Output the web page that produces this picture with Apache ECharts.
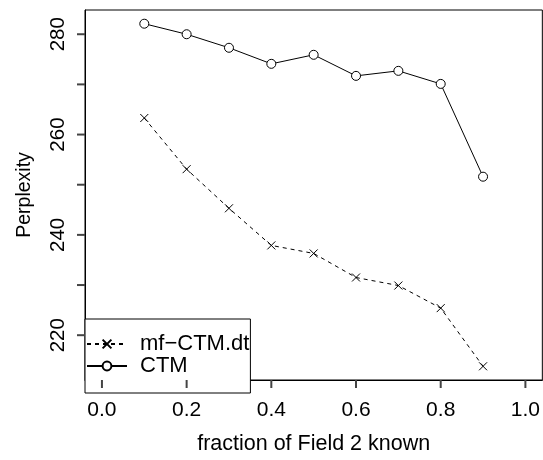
<!DOCTYPE html>
<html>
<head>
<meta charset="utf-8">
<script src="https://cdn.jsdelivr.net/npm/echarts@6/dist/echarts.min.js"></script>
<style>html,body{margin:0;padding:0;background:#fff}#c{width:543px;height:460px}</style>
</head>
<body>
<div id="c"></div>
<script>
const xValues = [0.1, 0.2, 0.3, 0.4, 0.5, 0.6, 0.7, 0.8, 0.9];
const mfCtmDt = [263.3, 253.1, 245.3, 237.9, 236.3, 231.5, 229.9, 225.4, 213.8];
const ctm = [282.1, 280.0, 277.3, 274.1, 275.9, 271.7, 272.7, 270.1, 251.6];
const xTicks = [0, 0.2, 0.4, 0.6, 0.8, 1.0];
const yTicks = [220, 230, 240, 250, 260, 270, 280];
const yLabels = [220, 240, 260, 280];
const seriesNames = ['mf\u2212CTM.dt', 'CTM'];

// R-style 4% axis extension
const allY = mfCtmDt.concat(ctm);
const yMinD = Math.min(...allY), yMaxD = Math.max(...allY);
const yPad = (yMaxD - yMinD) * 0.04;
const xMinD = 0, xMaxD = 1, xPad = (xMaxD - xMinD) * 0.04;
const xLo = xMinD - xPad, xHi = xMaxD + xPad;
const yLo = yMinD - yPad, yHi = yMaxD + yPad;

const font = 'Liberation Sans, Arial, Helvetica, sans-serif';
const TICK = 8;

// outward axis ticks, positioned through the axes' own scales
function tickSeries(data, vertical) {
  return {
    type: 'custom', silent: true, clip: false, z: 10,
    data: data,
    encode: {x: 0, y: 1},
    renderItem: function (params, api) {
      const p = api.coord([api.value(0), api.value(1)]);
      const x = p[0], y = p[1];
      const shape = vertical
        ? {x1: x, y1: y, x2: x, y2: y + TICK}
        : {x1: x - TICK, y1: y, x2: x, y2: y};
      return {type: 'line', z2: 10, shape: shape, style: {stroke: '#444', lineWidth: 2}};
    }
  };
}

const chart = echarts.init(document.getElementById('c'), null, {renderer: 'canvas'});
chart.setOption({
  animation: false,
  backgroundColor: '#fff',
  textStyle: {fontFamily: font},
  grid: {left: 85, top: 10, right: -1, bottom: 70, show: true, borderColor: '#000', borderWidth: 1, containLabel: false},
  xAxis: {
    type: 'value', min: xLo, max: xHi,
    name: 'fraction of Field 2 known', nameLocation: 'middle', nameGap: 53,
    nameTextStyle: {fontSize: 21.5, color: '#000', fontFamily: font},
    axisLine: {show: true, onZero: false, lineStyle: {color: '#000', width: 1}},
    splitLine: {show: false},
    axisTick: {show: false},
    axisLabel: {customValues: xTicks, fontSize: 21, color: '#000', fontFamily: font, margin: 20,
      formatter: v => v.toFixed(1)}
  },
  yAxis: {
    type: 'value', min: yLo, max: yHi,
    name: 'Perplexity', nameLocation: 'middle', nameGap: 50, nameRotate: 90,
    nameTextStyle: {fontSize: 19.5, color: '#000', fontFamily: font},
    axisLine: {show: true, onZero: false, lineStyle: {color: '#000', width: 1}},
    splitLine: {show: false},
    axisTick: {show: false},
    axisLabel: {customValues: yLabels, rotate: 90, fontSize: 20.5, color: '#000', fontFamily: font, margin: 16,
      formatter: v => String(Math.round(v))}
  },
  legend: {
    orient: 'vertical', left: 85, top: 319,
    data: seriesNames,
    borderColor: '#000', borderWidth: 1, borderRadius: 0,
    padding: [14, 1, 16, 1],
    itemWidth: 40, itemHeight: 11, itemGap: 0,
    backgroundColor: '#fff',
    textStyle: {fontSize: 22, color: '#000', fontFamily: font, lineHeight: 20, padding: [0, 0, 0, 8]},
    selectedMode: false
  },
  series: [
    {
      name: seriesNames[0], type: 'line',
      data: xValues.map((x, i) => [x, mfCtmDt[i]]),
      symbol: 'path://M0,0L10,10M10,0L0,10', symbolSize: 8,
      itemStyle: {color: 'transparent', borderColor: '#000', borderWidth: 1},
      lineStyle: {color: '#000', width: 1, type: [4, 4]},
      z: 3
    },
    {
      name: seriesNames[1], type: 'line',
      data: xValues.map((x, i) => [x, ctm[i]]),
      symbol: 'circle', symbolSize: 9,
      itemStyle: {color: '#fff', borderColor: '#000', borderWidth: 1},
      lineStyle: {color: '#000', width: 1, type: 'solid'},
      z: 3
    },
    tickSeries(xTicks.map(v => [v, yLo]), true),
    tickSeries(yTicks.map(v => [xLo, v]), false)
  ]
});
</script>
</body>
</html>
